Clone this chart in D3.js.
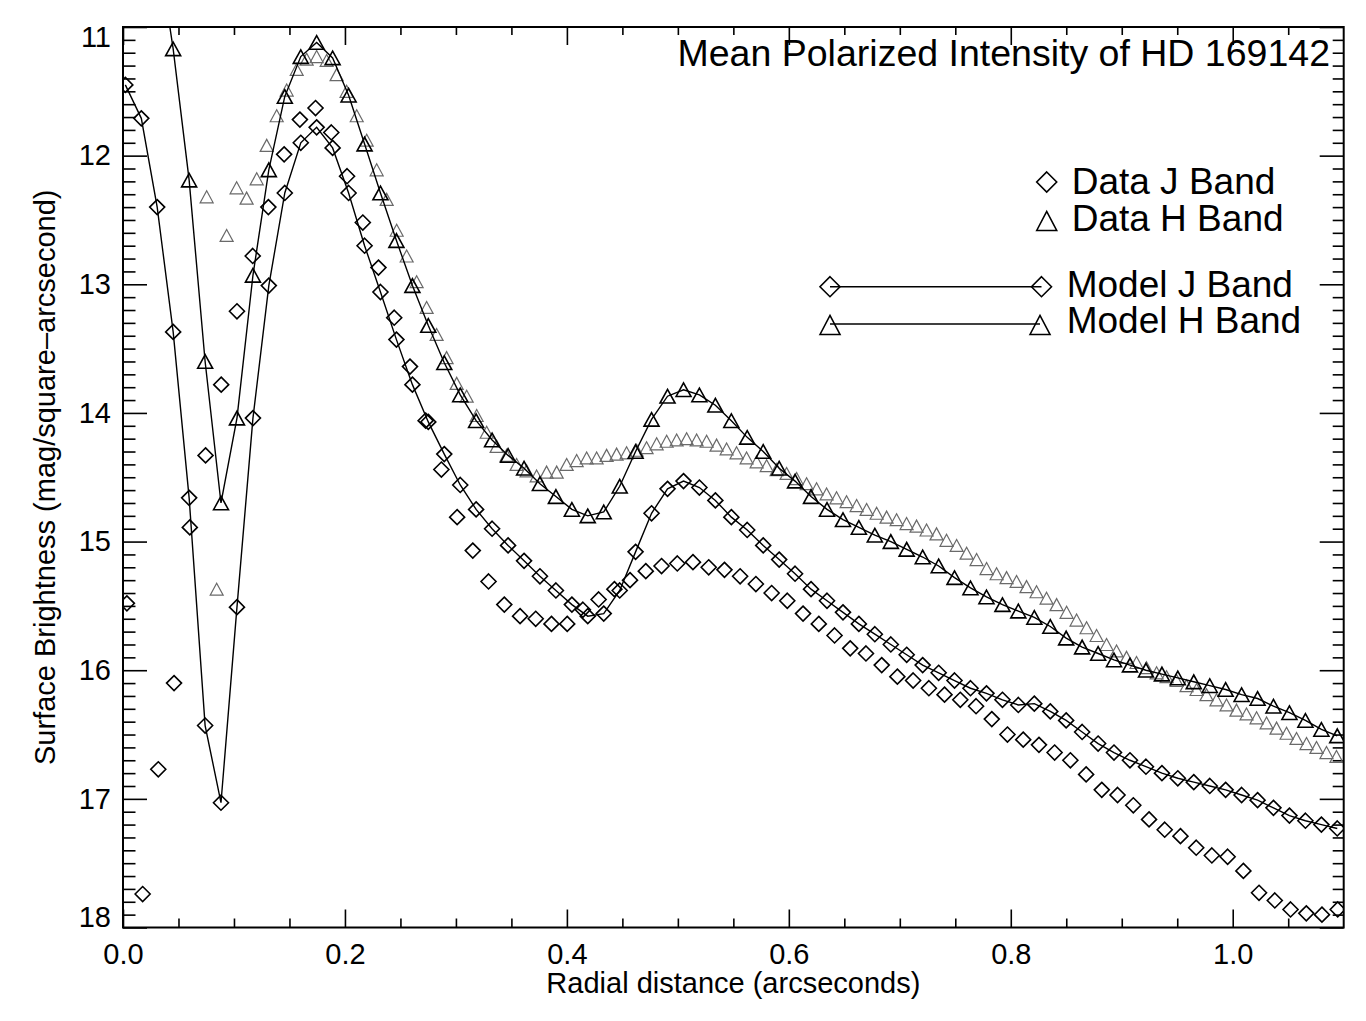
<!DOCTYPE html>
<html>
<head>
<meta charset="utf-8">
<script src="https://cdn.jsdelivr.net/npm/d3@7"></script>
<style>
  body { margin: 0; background: #fff; }
  text { font-family: "Liberation Sans", Arial, Helvetica, sans-serif; fill: #000; }
</style>
</head>
<body>
<div class="chart"></div>
<script>
/*      data      */
// radius grid of the model curves (arcsec)
const modelR = [0.0021, 0.0165, 0.0308, 0.0452, 0.0596, 0.0740, 0.0883, 0.1027, 0.1171, 0.1314,
  0.1458, 0.1602, 0.1745, 0.1889, 0.2033, 0.2177, 0.2320, 0.2464, 0.2608, 0.2751,
  0.2895, 0.3039, 0.3182, 0.3326, 0.3470, 0.3614, 0.3757, 0.3901, 0.4045, 0.4188,
  0.4332, 0.4476, 0.4619, 0.4763, 0.4907, 0.5051, 0.5194, 0.5338, 0.5482, 0.5625,
  0.5769, 0.5913, 0.6056, 0.6200, 0.6344, 0.6488, 0.6631, 0.6775, 0.6919, 0.7062,
  0.7206, 0.7350, 0.7493, 0.7637, 0.7781, 0.7925, 0.8068, 0.8212, 0.8356, 0.8499,
  0.8643, 0.8787, 0.8930, 0.9074, 0.9218, 0.9362, 0.9505, 0.9649, 0.9793, 0.9936,
  1.0080, 1.0224, 1.0367, 1.0511, 1.0655, 1.0799, 1.0942];
const modelJ = [11.45, 11.71, 12.40, 13.37, 14.66, 16.43, 17.03, 15.51, 14.04, 13.01,
  12.29, 11.90, 11.78, 11.94, 12.29, 12.70, 13.06, 13.43, 13.78, 14.07,
  14.32, 14.56, 14.75, 14.90, 15.03, 15.15, 15.27, 15.38, 15.49, 15.58,
  15.56, 15.38, 15.08, 14.78, 14.59, 14.53, 14.58, 14.68, 14.81, 14.91,
  15.03, 15.14, 15.25, 15.37, 15.46, 15.55, 15.64, 15.72, 15.80, 15.88,
  15.96, 16.02, 16.08, 16.14, 16.18, 16.23, 16.27, 16.26, 16.32, 16.39,
  16.48, 16.57, 16.64, 16.70, 16.75, 16.80, 16.84, 16.87, 16.90, 16.93,
  16.97, 17.01, 17.07, 17.13, 17.17, 17.20, 17.23];
const modelH = [9.60, 9.90, 10.35, 11.17, 12.19, 13.60, 14.70, 14.04, 12.93, 12.11,
  11.54, 11.23, 11.12, 11.24, 11.53, 11.91, 12.29, 12.66, 13.01, 13.32,
  13.61, 13.86, 14.06, 14.21, 14.33, 14.43, 14.55, 14.65, 14.75, 14.80,
  14.77, 14.57, 14.30, 14.05, 13.87, 13.82, 13.86, 13.94, 14.06, 14.19,
  14.30, 14.43, 14.53, 14.65, 14.75, 14.83, 14.89, 14.95, 15.00, 15.06,
  15.12, 15.19, 15.28, 15.36, 15.43, 15.49, 15.54, 15.59, 15.66, 15.75,
  15.82, 15.87, 15.92, 15.96, 16.00, 16.03, 16.06, 16.09, 16.12, 16.15,
  16.19, 16.22, 16.28, 16.33, 16.39, 16.46, 16.51];

// J band data
const dataJR = [0.0035, 0.0177, 0.0318, 0.0460, 0.0602, 0.0744, 0.0885, 0.1027, 0.1169, 0.1310,
  0.1452, 0.1594, 0.1735, 0.1877, 0.2019, 0.2161, 0.2302, 0.2444, 0.2586, 0.2727,
  0.2869, 0.3011, 0.3152, 0.3294, 0.3436, 0.3578, 0.3719, 0.3861, 0.4003, 0.4144,
  0.4286, 0.4428, 0.4569, 0.4711, 0.4853, 0.4995, 0.5136, 0.5278, 0.5420, 0.5561,
  0.5703, 0.5845, 0.5986, 0.6128, 0.6270, 0.6412, 0.6553, 0.6695, 0.6837, 0.6978,
  0.7120, 0.7262, 0.7403, 0.7545, 0.7687, 0.7829, 0.7970, 0.8112, 0.8254, 0.8395,
  0.8537, 0.8679, 0.8820, 0.8962, 0.9104, 0.9246, 0.9387, 0.9529, 0.9671, 0.9812,
  0.9954, 1.0096, 1.0237, 1.0379, 1.0521, 1.0663, 1.0804, 1.0946];
const dataJ = [15.48, 17.74, 16.77, 16.10, 14.89, 14.33, 13.78, 13.21, 12.78, 12.40,
  11.99, 11.72, 11.63, 11.82, 12.16, 12.52, 12.87, 13.26, 13.64, 14.06,
  14.44, 14.81, 15.07, 15.31, 15.49, 15.58, 15.60, 15.64, 15.64, 15.53,
  15.45, 15.37, 15.30, 15.23, 15.19, 15.17, 15.16, 15.20, 15.22, 15.27,
  15.33, 15.40, 15.46, 15.56, 15.64, 15.73, 15.83, 15.87, 15.96, 16.05,
  16.08, 16.14, 16.19, 16.23, 16.28, 16.38, 16.50, 16.54, 16.58, 16.64,
  16.70, 16.81, 16.93, 16.97, 17.05, 17.16, 17.24, 17.29, 17.38, 17.44,
  17.45, 17.56, 17.73, 17.79, 17.86, 17.89, 17.90, 17.86];

// H band data
const dataHR = [0.0754, 0.0844, 0.0934, 0.1024, 0.1114, 0.1205, 0.1295, 0.1385, 0.1475, 0.1565,
  0.1655, 0.1745, 0.1835, 0.1925, 0.2015, 0.2106, 0.2196, 0.2286, 0.2376, 0.2466,
  0.2556, 0.2646, 0.2736, 0.2826, 0.2916, 0.3007, 0.3097, 0.3187, 0.3277, 0.3367,
  0.3457, 0.3547, 0.3637, 0.3727, 0.3817, 0.3908, 0.3998, 0.4088, 0.4178, 0.4268,
  0.4358, 0.4448, 0.4538, 0.4628, 0.4718, 0.4809, 0.4899, 0.4989, 0.5079, 0.5169,
  0.5259, 0.5349, 0.5439, 0.5529, 0.5619, 0.5710, 0.5800, 0.5890, 0.5980, 0.6070,
  0.6160, 0.6250, 0.6340, 0.6430, 0.6520, 0.6611, 0.6701, 0.6791, 0.6881, 0.6971,
  0.7061, 0.7151, 0.7241, 0.7331, 0.7421, 0.7512, 0.7602, 0.7692, 0.7782, 0.7872,
  0.7962, 0.8052, 0.8142, 0.8232, 0.8322, 0.8413, 0.8503, 0.8593, 0.8683, 0.8773,
  0.8863, 0.8953, 0.9043, 0.9133, 0.9223, 0.9314, 0.9404, 0.9494, 0.9584, 0.9674,
  0.9764, 0.9854, 0.9944, 1.0034, 1.0124, 1.0215, 1.0305, 1.0395, 1.0485, 1.0575,
  1.0665, 1.0755, 1.0845, 1.0935];
const dataH = [12.32, 15.37, 12.62, 12.25, 12.33, 12.18, 11.92, 11.69, 11.49, 11.33,
  11.25, 11.23, 11.26, 11.37, 11.50, 11.69, 11.88, 12.11, 12.34, 12.58,
  12.78, 12.98, 13.18, 13.39, 13.57, 13.77, 13.87, 14.02, 14.15, 14.26,
  14.33, 14.40, 14.45, 14.49, 14.46, 14.46, 14.40, 14.37, 14.35, 14.35,
  14.33, 14.32, 14.31, 14.29, 14.27, 14.24, 14.22, 14.21, 14.20, 14.21,
  14.22, 14.25, 14.28, 14.31, 14.35, 14.38, 14.41, 14.44, 14.47, 14.51,
  14.55, 14.59, 14.63, 14.66, 14.69, 14.72, 14.75, 14.78, 14.81, 14.83,
  14.86, 14.88, 14.91, 14.94, 14.99, 15.03, 15.09, 15.14, 15.21, 15.25,
  15.28, 15.31, 15.35, 15.39, 15.44, 15.49, 15.55, 15.61, 15.67, 15.73,
  15.80, 15.85, 15.90, 15.94, 15.98, 16.02, 16.05, 16.08, 16.12, 16.15,
  16.19, 16.23, 16.27, 16.31, 16.34, 16.37, 16.41, 16.45, 16.49, 16.53,
  16.57, 16.60, 16.64, 16.67];

const xTicks = [0.0, 0.2, 0.4, 0.6, 0.8, 1.0];
const yTicks = [11, 12, 13, 14, 15, 16, 17, 18];
const legendLabels = ['Data J Band', 'Data H Band', 'Model J Band', 'Model H Band'];
const title = 'Mean Polarized Intensity of HD 169142';
const xTitle = 'Radial distance (arcseconds)';
const yTitle = 'Surface Brightness (mag/square\u2013arcsecond)';

/*      layout      */
const width = 1366;
const height = 1021;
const plotLeft = 123, plotRight = 1343.7, plotTop = 27, plotBottom = 927.5;

const svg = d3.select('.chart').append('svg')
    .attr('width', width)
    .attr('height', height)
    .attr('viewBox', `0 0 ${width} ${height}`);
svg.append('rect').attr('width', width).attr('height', height).attr('fill', '#fff');

const x = d3.scaleLinear().domain([0, 1.1]).range([plotLeft, plotRight]);
const y = d3.scaleLinear().domain([11, 18]).range([plotTop, plotBottom]);

svg.append('clipPath').attr('id', 'plotClip')
  .append('rect')
    .attr('x', plotLeft).attr('y', plotTop)
    .attr('width', plotRight - plotLeft).attr('height', plotBottom - plotTop);

const diamond = s => `M0,${-s}L${s},0L0,${s}L${-s},0Z`;
const triangle = (w, h) => `M${-w},${h}L0,${-h}L${w},${h}Z`;

const axisFont = 29;
const cleanAxis = g => g.select('.domain').remove();

/*      axes with inward ticks      */
const xMinor = d3.range(0.05, 1.1, 0.05).filter(v => Math.abs(v * 5 - Math.round(v * 5)) > 1e-6);
const yMinor = d3.range(11.1, 18, 0.1).filter(v => Math.abs(v - Math.round(v)) > 1e-6);

// bottom
svg.append('g').attr('class', 'x-axis')
    .attr('transform', `translate(0, ${plotBottom})`)
    .call(d3.axisBottom(x).tickValues(xTicks).tickFormat(d3.format('.1f'))
        .tickSizeInner(-18).tickSizeOuter(0).tickPadding(16))
    .call(cleanAxis)
    .attr('font-size', axisFont);
svg.append('g')
    .attr('transform', `translate(0, ${plotBottom})`)
    .call(d3.axisBottom(x).tickValues(xMinor).tickFormat('').tickSizeInner(-9).tickSizeOuter(0))
    .call(cleanAxis);
// top
svg.append('g')
    .attr('transform', `translate(0, ${plotTop})`)
    .call(d3.axisBottom(x).tickValues(xTicks).tickFormat('').tickSizeInner(18).tickSizeOuter(0))
    .call(cleanAxis);
svg.append('g')
    .attr('transform', `translate(0, ${plotTop})`)
    .call(d3.axisBottom(x).tickValues(xMinor).tickFormat('').tickSizeInner(8).tickSizeOuter(0))
    .call(cleanAxis);
// left
const yAxisG = svg.append('g').attr('class', 'y-axis')
    .attr('transform', `translate(${plotLeft}, 0)`)
    .call(d3.axisLeft(y).tickValues(yTicks).tickFormat(d3.format('d'))
        .tickSizeInner(-24).tickSizeOuter(0).tickPadding(12))
    .call(cleanAxis)
    .attr('font-size', axisFont);
// end labels sit inside the axis range
yAxisG.selectAll('.tick text').attr('y', d => d === 11 ? 10 : (d === 18 ? -10 : 0));
svg.append('g')
    .attr('transform', `translate(${plotLeft}, 0)`)
    .call(d3.axisLeft(y).tickValues(yMinor).tickFormat('').tickSizeInner(-12.5).tickSizeOuter(0))
    .call(cleanAxis);
// right
svg.append('g')
    .attr('transform', `translate(${plotRight}, 0)`)
    .call(d3.axisLeft(y).tickValues(yTicks).tickFormat('').tickSizeInner(24).tickSizeOuter(0))
    .call(cleanAxis);
svg.append('g')
    .attr('transform', `translate(${plotRight}, 0)`)
    .call(d3.axisLeft(y).tickValues(yMinor).tickFormat('').tickSizeInner(11).tickSizeOuter(0))
    .call(cleanAxis);

svg.selectAll('.tick line').attr('stroke', '#000').attr('stroke-width', 1.6);

/*      series      */
const plot = svg.append('g').attr('clip-path', 'url(#plotClip)');

const ptsDataH = dataHR.map((r, i) => ({ r: r, m: dataH[i] }));
const ptsDataJ = dataJR.map((r, i) => ({ r: r, m: dataJ[i] }));
const ptsModelJ = modelR.map((r, i) => ({ r: r, m: modelJ[i] }));
const ptsModelH = modelR.map((r, i) => ({ r: r, m: modelH[i] }));

const line = d3.line().x(d => x(d.r)).y(d => y(d.m));

plot.selectAll('.dataH').data(ptsDataH).enter().append('path')
    .attr('class', 'dataH')
    .attr('d', triangle(6.5, 6))
    .attr('transform', d => `translate(${x(d.r)}, ${y(d.m)})`)
    .attr('fill', 'none').attr('stroke', '#6a6a6a').attr('stroke-width', 1.2);

plot.selectAll('.dataJ').data(ptsDataJ).enter().append('path')
    .attr('class', 'dataJ')
    .attr('d', diamond(7.5))
    .attr('transform', d => `translate(${x(d.r)}, ${y(d.m)})`)
    .attr('fill', 'none').attr('stroke', '#000').attr('stroke-width', 1.6);

plot.append('path').datum(ptsModelJ)
    .attr('d', line).attr('fill', 'none').attr('stroke', '#000').attr('stroke-width', 1.4);
plot.append('path').datum(ptsModelH)
    .attr('d', line).attr('fill', 'none').attr('stroke', '#000').attr('stroke-width', 1.4);

plot.selectAll('.modelJ').data(ptsModelJ).enter().append('path')
    .attr('class', 'modelJ')
    .attr('d', diamond(7.5))
    .attr('transform', d => `translate(${x(d.r)}, ${y(d.m)})`)
    .attr('fill', 'none').attr('stroke', '#000').attr('stroke-width', 1.6);

plot.selectAll('.modelH').data(ptsModelH).enter().append('path')
    .attr('class', 'modelH')
    .attr('d', triangle(7.5, 6.8))
    .attr('transform', d => `translate(${x(d.r)}, ${y(d.m)})`)
    .attr('fill', 'none').attr('stroke', '#000').attr('stroke-width', 1.6);

/*      frame      */
svg.append('rect')
    .attr('x', plotLeft).attr('y', plotTop)
    .attr('width', plotRight - plotLeft).attr('height', plotBottom - plotTop)
    .attr('fill', 'none').attr('stroke', '#000').attr('stroke-width', 2);

/*      titles      */
svg.append('text')
    .attr('x', (plotLeft + plotRight) / 2).attr('y', 993)
    .attr('text-anchor', 'middle').attr('font-size', axisFont)
    .text(xTitle);
svg.append('text')
    .attr('transform', `translate(55, ${(plotTop + plotBottom) / 2}) rotate(-90)`)
    .attr('text-anchor', 'middle').attr('font-size', axisFont)
    .text(yTitle);
svg.append('text')
    .attr('x', 1330).attr('y', 66)
    .attr('text-anchor', 'end').attr('font-size', 37.5)
    .text(title);

/*      legend      */
const legend = svg.append('g').attr('class', 'legend');
const sym = (g, kind, cx, cy) => g.append('path')
    .attr('d', kind === 'd' ? diamond(10) : triangle(10, 9.5))
    .attr('transform', `translate(${cx}, ${cy})`)
    .attr('fill', 'none').attr('stroke', '#000').attr('stroke-width', 1.6);

sym(legend, 'd', 1046.7, 182);
sym(legend, 't', 1046.7, 221);
legend.append('line').attr('x1', 830).attr('x2', 1041.5).attr('y1', 286.7).attr('y2', 286.7)
    .attr('stroke', '#000').attr('stroke-width', 1.4);
sym(legend, 'd', 830, 286.7);
sym(legend, 'd', 1041.5, 286.7);
legend.append('line').attr('x1', 830).attr('x2', 1040).attr('y1', 324).attr('y2', 324)
    .attr('stroke', '#000').attr('stroke-width', 1.4);
sym(legend, 't', 830, 325);
sym(legend, 't', 1040, 325);

const legendPos = [[1071.7, 194], [1071.7, 230.7], [1066.7, 296.7], [1066.7, 333.3]];
legend.selectAll('text').data(legendLabels).enter().append('text')
    .attr('x', (d, i) => legendPos[i][0])
    .attr('y', (d, i) => legendPos[i][1])
    .attr('font-size', 37)
    .text(d => d);
</script>
</body>
</html>
